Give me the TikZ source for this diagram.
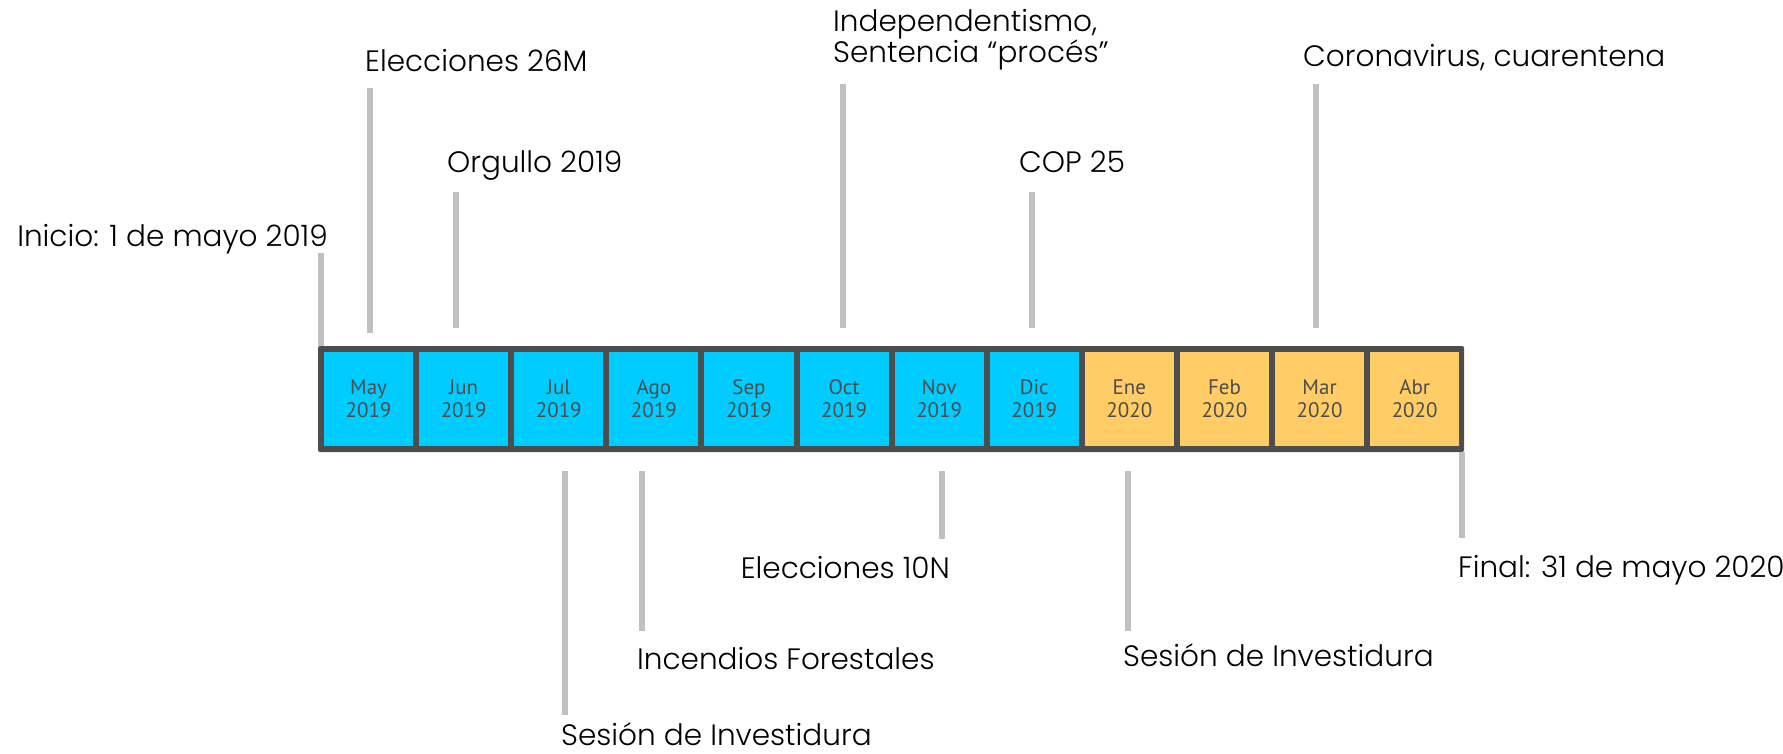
\documentclass[tikz,border=0pt]{standalone}
\usepackage{fontspec}
\setmainfont{Poppins Light}
\newfontfamily\monthfont{PT Sans}
\definecolor{mcyan}{HTML}{00CCFF}
\definecolor{morange}{HTML}{FFCC66}
\definecolor{bargray}{HTML}{4D4D4D}
\definecolor{tickgray}{HTML}{C0C0C0}
\tikzset{
    lbl/.style={inner sep=0pt, font=\fontsize{29.5}{30}\selectfont},
    tick/.style={draw=tickgray, line width=5.5pt},
    month/.style={fill=#1, inner sep=0pt, minimum width=89.1pt, minimum height=94pt,
        align=center, text=bargray, font=\monthfont\fontsize{21}{23}\selectfont},
}

\begin{document}
\begin{tikzpicture}[x=1pt, y=-1pt]
    \useasboundingbox (0,0) rectangle (1783,754);
    % the bar with its twelve months
    \fill[bargray, rounded corners=2pt] (318,346) rectangle (1464,452);
    \foreach \m/\yr/\c [count=\i from 0] in {May/2019/mcyan, Jun/2019/mcyan, Jul/2019/mcyan,
        Ago/2019/mcyan, Sep/2019/mcyan, Oct/2019/mcyan, Nov/2019/mcyan, Dic/2019/mcyan,
        Ene/2020/morange, Feb/2020/morange, Mar/2020/morange, Abr/2020/morange}
        \node[month=\c] (m\i) at (368.55+95.1*\i, 399) {\m\\\yr};

    % ticks
    \foreach \x/\ya/\yb [count=\i] in {321/253/346, 370/88/333, 456/192/328, 843/84/328,
        1032/192/328, 1316/84/328, 565/471/715, 642/471/631, 942/471/539,
        1128/471/631, 1462/452/538} {
        \coordinate (t\i a) at (\x,\ya);
        \coordinate (t\i b) at (\x,\yb);
        \draw[tick] (t\i a) -- (t\i b);
    }

    % events above
    \node[lbl, anchor=base east] (ini) at (328,247) {Inicio: 1 de mayo 2019};
    \node[lbl, anchor=base west] (e26m) at (365,72) {Elecciones 26M};
    \node[lbl, anchor=base west] (orgullo) at (447,173) {Orgullo 2019};
    \node[lbl, anchor=base west, align=left] (indep) at (833,63) {Independentismo,\\Sentencia “procés”};
    \node[lbl, anchor=base west] (cop) at (1019,173) {COP 25};
    \node[lbl, anchor=base west] (corona) at (1303,67) {Coronavirus, cuarentena};
    % events below
    \node[lbl, anchor=base west] (invjul) at (561,745) {Sesión de Investidura};
    \node[lbl, anchor=base west] (incendios) at (637,669) {Incendios Forestales};
    \node[lbl, anchor=base east] (e10n) at (950,578) {Elecciones 10N};
    \node[lbl, anchor=base west] (invene) at (1123,666) {Sesión de Investidura};
    \node[lbl, anchor=base west] (final) at (1458,577) {Final: 31 de mayo 2020};
\end{tikzpicture}
\end{document}
